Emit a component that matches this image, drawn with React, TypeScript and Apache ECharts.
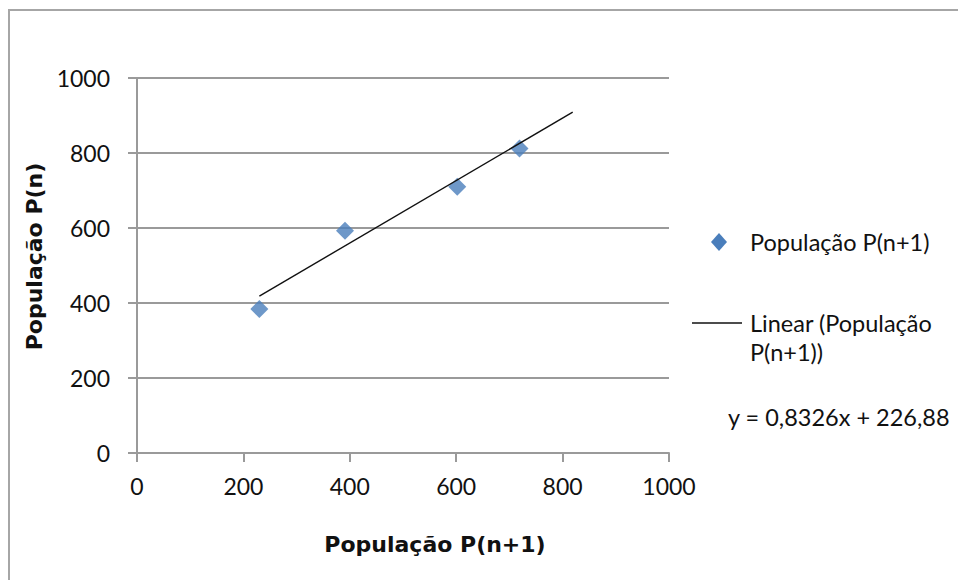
import React, { useEffect, useRef } from "react";
import * as echarts from "echarts";

const xValues = [230, 391, 602, 719];
const yValues = [384, 593, 710, 812];
const trendSlope = 0.8326;
const trendIntercept = 226.88;
const trendRange = [230, 819];
const axisTicks = [0, 200, 400, 600, 800, 1000];
const seriesName = "População P(n+1)";
const trendLegendLines = ["Linear (População", "P(n+1))"];
const equationText = "y = 0,8326x + 226,88";
const xTitle = "População P(n+1)";
const yTitle = "População P(n)";

const labelFont = "Lato, 'Open Sans', sans-serif";
const titleFont = "'DejaVu Sans', Verdana, sans-serif";
const gray = "#9a9a9a";
const blue = "#4a7ebb";

export default function App() {
  const ref = useRef<HTMLDivElement>(null);
  useEffect(() => {
    document.body.style.margin = "0";
    if (!ref.current) return;
    const chart = echarts.init(ref.current, null, { renderer: "svg" });
    const points = xValues.map((x, i) => [x, yValues[i]]);
    const trend = trendRange.map((x) => [x, trendSlope * x + trendIntercept]);
    const textStyle = { fontFamily: labelFont, fontSize: 23.5, fill: "#111" };
    chart.setOption({
      animation: false,
      backgroundColor: "#ffffff",
      grid: { left: 137, right: 289, top: 78, bottom: 127 },
      xAxis: {
        type: "value",
        min: axisTicks[0],
        max: axisTicks[axisTicks.length - 1],
        interval: 200,
        name: xTitle,
        nameLocation: "middle",
        nameGap: 80,
        nameTextStyle: {
          fontFamily: titleFont,
          fontWeight: "bold",
          fontSize: 22,
          color: "#111",
          padding: [0, 0, 0, 64],
        },
        axisLine: { show: true, lineStyle: { color: gray, width: 2 } },
        axisTick: { show: true, length: 9, lineStyle: { color: gray, width: 2 } },
        axisLabel: {
          margin: 21,
          fontFamily: labelFont,
          fontSize: 23,
          color: "#111",
          formatter: (v: number) => String(v),
        },
        splitLine: { show: false },
      },
      yAxis: {
        type: "value",
        min: axisTicks[0],
        max: axisTicks[axisTicks.length - 1],
        interval: 200,
        name: yTitle,
        nameLocation: "middle",
        nameGap: 91,
        nameRotate: 90,
        nameTextStyle: {
          fontFamily: titleFont,
          fontWeight: "bold",
          fontSize: 22,
          color: "#111",
          padding: [0, 0, 0, 18],
        },
        axisLine: { show: true, lineStyle: { color: gray, width: 2 } },
        axisTick: { show: true, length: 9, lineStyle: { color: gray, width: 2 } },
        axisLabel: {
          margin: 27,
          fontFamily: labelFont,
          fontSize: 23,
          color: "#111",
          formatter: (v: number) => String(v),
        },
        splitLine: { show: true, lineStyle: { color: gray, width: 2 } },
      },
      graphic: [
        {
          type: "rect",
          shape: { x: 9, y: 10, width: 1200, height: 1200 },
          style: { fill: "none", stroke: "#a6a6a6", lineWidth: 2 },
          silent: true,
        },
        {
          type: "polygon",
          shape: { points: [[719, 233], [727, 242], [719, 251], [711, 242]] },
          style: { fill: blue },
        },
        {
          type: "text",
          x: 750,
          y: 242,
          style: { ...textStyle, text: seriesName, verticalAlign: "middle" },
        },
        {
          type: "line",
          shape: { x1: 692, y1: 323, x2: 742, y2: 323 },
          style: { stroke: "#111", lineWidth: 1.6 },
        },
        {
          type: "text",
          x: 750,
          y: 323,
          style: { ...textStyle, text: trendLegendLines[0], verticalAlign: "middle" },
        },
        {
          type: "text",
          x: 750,
          y: 352,
          style: { ...textStyle, text: trendLegendLines[1], verticalAlign: "middle" },
        },
        {
          type: "text",
          x: 728,
          y: 417,
          style: { ...textStyle, text: equationText, verticalAlign: "middle" },
        },
      ],
      series: [
        {
          name: seriesName,
          type: "scatter",
          data: points,
          symbol: "diamond",
          symbolSize: 18,
          itemStyle: { color: blue },
          z: 3,
        },
        {
          name: "Linear (População P(n+1))",
          type: "line",
          data: trend,
          showSymbol: false,
          symbol: "none",
          lineStyle: { color: "#111", width: 1.4 },
          itemStyle: { color: "#111" },
          z: 4,
        },
      ],
    });
    return () => chart.dispose();
  }, []);
  return <div ref={ref} style={{ width: 958, height: 580 }} />;
}
